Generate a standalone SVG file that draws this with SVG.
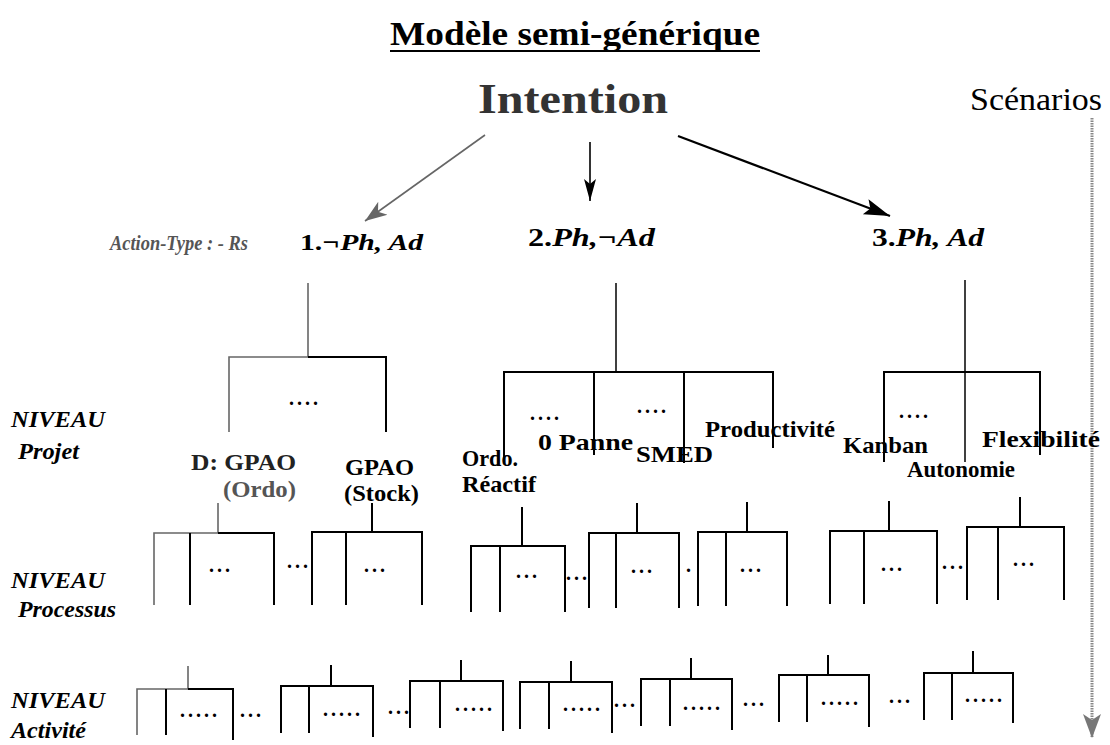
<svg xmlns="http://www.w3.org/2000/svg" width="1110" height="745" viewBox="0 0 1110 745">
<defs>
<style>
text{font-family:"Liberation Serif","Times New Roman",serif;fill:#000}
.lbl{font-weight:bold;font-size:23px}
.lvl{font-weight:bold;font-style:italic;font-size:23px}
.dots{font-weight:bold;font-size:20px;letter-spacing:3px}
.ln{stroke:#000;stroke-width:2;fill:none}
.gr{stroke:#666;stroke-width:1.6;fill:none}
.tr{stroke:#000;stroke-width:1.5;fill:none}
</style>
<marker id="ahg" markerUnits="userSpaceOnUse" markerWidth="24" markerHeight="20" refX="22" refY="10" orient="auto"><path d="M0,2 L22,10 L0,18 L6,10 Z" fill="#666"/></marker>
<marker id="ahb" markerUnits="userSpaceOnUse" markerWidth="24" markerHeight="16" refX="22" refY="8" orient="auto"><path d="M0,2 L22,8 L0,14 L5,8 Z" fill="#000"/></marker>
<marker id="ahr" markerUnits="userSpaceOnUse" markerWidth="28" markerHeight="20" refX="26" refY="10" orient="auto"><path d="M0,2 L26,10 L0,18 L5,10 Z" fill="#000"/></marker>
<marker id="ahs" markerUnits="userSpaceOnUse" markerWidth="26" markerHeight="22" refX="24" refY="11" orient="auto"><path d="M0,2 L24,11 L0,20 L6,11 Z" fill="#777"/></marker>
</defs>
<rect width="1110" height="745" fill="#fff"/>

<g id="title">
<text x="390" y="45" font-size="33" font-weight="bold" textLength="370" lengthAdjust="spacingAndGlyphs">Modèle  semi-générique</text>
<line x1="390" y1="51" x2="760" y2="51" stroke="#000" stroke-width="2.2"/>
</g>

<g id="intention">
<text x="478" y="113" font-size="42" font-weight="bold" style="fill:#333" textLength="190" lengthAdjust="spacingAndGlyphs">Intention</text>
</g>

<g id="scenarios">
<text x="970" y="110" font-size="32" textLength="132" lengthAdjust="spacingAndGlyphs">Scénarios</text>
</g>

<g id="action-type">
<text x="110" y="250" font-size="20" font-style="italic" font-weight="bold" style="fill:#555" textLength="138" lengthAdjust="spacingAndGlyphs">Action-Type : - Rs</text>
</g>
<g id="type1">
<text x="300" y="250" font-size="24" font-weight="bold" textLength="123" lengthAdjust="spacingAndGlyphs"><tspan>1.</tspan><tspan font-style="italic">¬Ph, Ad</tspan></text>
</g>
<g id="type2">
<text x="528" y="246" font-size="26" font-weight="bold" textLength="127" lengthAdjust="spacingAndGlyphs"><tspan>2.</tspan><tspan font-style="italic">Ph,¬Ad</tspan></text>
</g>
<g id="type3">
<text x="872" y="246" font-size="26" font-weight="bold" textLength="112" lengthAdjust="spacingAndGlyphs"><tspan>3.</tspan><tspan font-style="italic">Ph, Ad</tspan></text>
</g>

<g id="levels">
<text class="lvl" x="11" y="427" textLength="94" lengthAdjust="spacingAndGlyphs">NIVEAU</text>
<text class="lvl" x="18" y="459" textLength="61" lengthAdjust="spacingAndGlyphs">Projet</text>
<text class="lvl" x="11" y="588" textLength="94" lengthAdjust="spacingAndGlyphs">NIVEAU</text>
<text class="lvl" x="18" y="617" textLength="98" lengthAdjust="spacingAndGlyphs">Processus</text>
<text class="lvl" x="11" y="708" textLength="94" lengthAdjust="spacingAndGlyphs">NIVEAU</text>
<text class="lvl" x="11" y="738" textLength="75" lengthAdjust="spacingAndGlyphs">Activité</text>
</g>

<g id="connectors">
<line x1="485" y1="135" x2="365" y2="221" stroke="#666" stroke-width="1.6" marker-end="url(#ahg)"/>
<line x1="590" y1="142" x2="590" y2="201" stroke="#000" stroke-width="1.6" marker-end="url(#ahb)"/>
<line x1="678" y1="136" x2="890" y2="216" stroke="#000" stroke-width="2.2" marker-end="url(#ahr)"/>
<line x1="1092" y1="118" x2="1092" y2="738" stroke="#888" stroke-width="3" stroke-dasharray="1.5 1" marker-end="url(#ahs)"/>
</g>

<g id="tree1">
<path class="gr" d="M308,283 V357 M229,432 V357 H308"/>
<path class="ln" d="M308,357 H386 V432"/>
<text class="dots" x="289" y="405">....</text>
</g>
<g id="tree2">
<path class="tr" d="M616,283 V372"/>
<path class="ln" d="M504,460 V372 H773 V448 M594,372 V455 M684,372 V463"/>
<text class="dots" x="530" y="420">....</text>
<text class="dots" x="637" y="413">....</text>
</g>
<g id="tree3">
<path class="tr" d="M965,280 V462"/>
<path class="ln" d="M884,462 V372 H1040 V455"/>
<text class="dots" x="899" y="418">....</text>
</g>

<g id="proj-dgpao">
<text class="lbl" x="191" y="470" style="fill:#222" textLength="105" lengthAdjust="spacingAndGlyphs">D: GPAO</text>
<text class="lbl" x="223" y="497" style="fill:#555" textLength="73" lengthAdjust="spacingAndGlyphs">(Ordo)</text>
</g>
<g id="proj-gpao">
<text class="lbl" x="345" y="475" textLength="69" lengthAdjust="spacingAndGlyphs">GPAO</text>
<text class="lbl" x="344" y="501" textLength="75" lengthAdjust="spacingAndGlyphs">(Stock)</text>
</g>
<g id="proj-ordo">
<text class="lbl" x="462" y="466" textLength="56" lengthAdjust="spacingAndGlyphs">Ordo.</text>
<text class="lbl" x="462" y="492" textLength="74" lengthAdjust="spacingAndGlyphs">Réactif</text>
</g>
<g id="proj-panne"><text class="lbl" x="538" y="450" textLength="95" lengthAdjust="spacingAndGlyphs">0 Panne</text></g>
<g id="proj-smed"><text class="lbl" x="636" y="462" textLength="77" lengthAdjust="spacingAndGlyphs">SMED</text></g>
<g id="proj-prod"><text class="lbl" x="705" y="437" textLength="130" lengthAdjust="spacingAndGlyphs">Productivité</text></g>
<g id="proj-kanban"><text class="lbl" x="843" y="453" textLength="85" lengthAdjust="spacingAndGlyphs">Kanban</text></g>
<g id="proj-auto"><text class="lbl" x="907" y="477" textLength="108" lengthAdjust="spacingAndGlyphs">Autonomie</text></g>
<g id="proj-flex"><text class="lbl" x="982" y="447" textLength="118" lengthAdjust="spacingAndGlyphs">Flexibilité</text></g>

<g id="proc1">
<path class="gr" d="M218,503 V533 H154 V605"/>
<path class="ln" d="M218,533 H274 V605 M190,533 V605"/>
<text class="dots" x="209" y="572">...</text>
</g>
<text class="dots" x="287" y="568">...</text>
<g id="proc2">
<path class="ln" d="M372,503 V532 M312,605 V532 H422 V605 M346,532 V605"/>
<text class="dots" x="364" y="572">...</text>
</g>
<g id="proc3">
<path class="ln" d="M522,507 V546 M471,612 V546 H565 V612 M500,546 V612"/>
<text class="dots" x="516" y="578">...</text>
</g>
<text class="dots" x="566" y="580">...</text>
<g id="proc4">
<path class="ln" d="M637,503 V533 M589,608 V533 H679 V608 M616,533 V608"/>
<text class="dots" x="631" y="573">...</text>
</g>
<text class="dots" x="686" y="572">.</text>
<g id="proc5">
<path class="ln" d="M747,502 V532 M698,606 V532 H787 V606 M726,532 V606"/>
<text class="dots" x="740" y="572">...</text>
</g>
<g id="proc6">
<path class="ln" d="M889,501 V531 M830,604 V531 H937 V604 M864,531 V604"/>
<text class="dots" x="881" y="571">...</text>
</g>
<text class="dots" x="942" y="569">...</text>
<g id="proc7">
<path class="ln" d="M1020,497 V527 M967,600 V527 H1064 V600 M998,527 V600"/>
<text class="dots" x="1013" y="566">...</text>
</g>

<g id="act1">
<path class="gr" d="M188,666 V689 H137 V735"/>
<path class="ln" d="M188,689 H233 V740 M166,689 V735"/>
<text class="dots" x="180" y="717">.....</text>
</g>
<text class="dots" x="240" y="717">...</text>
<g id="act2">
<path class="ln" d="M331,665 V686 M281,733 V686 H373 V737 M309,686 V733"/>
<text class="dots" x="323" y="716">.....</text>
</g>
<text class="dots" x="388" y="714">...</text>
<g id="act3">
<path class="ln" d="M461,660 V681 M410,728 V681 H503 V731 M440,681 V728"/>
<text class="dots" x="455" y="711">.....</text>
</g>
<g id="act4">
<path class="ln" d="M571,661 V682 M520,729 V682 H612 V733 M549,682 V729"/>
<text class="dots" x="563" y="711">.....</text>
</g>
<text class="dots" x="614" y="707">...</text>
<g id="act5">
<path class="ln" d="M691,658 V679 M641,726 V679 H732 V730 M670,679 V726"/>
<text class="dots" x="683" y="710">.....</text>
</g>
<text class="dots" x="743" y="706">...</text>
<g id="act6">
<path class="ln" d="M828,655 V675 M779,722 V675 H869 V727 M807,675 V722"/>
<text class="dots" x="821" y="705">.....</text>
</g>
<text class="dots" x="889" y="703">...</text>
<g id="act7">
<path class="ln" d="M973,651 V673 M924,720 V673 H1013 V723 M952,673 V720"/>
<text class="dots" x="965" y="702">.....</text>
</g>
</svg>
